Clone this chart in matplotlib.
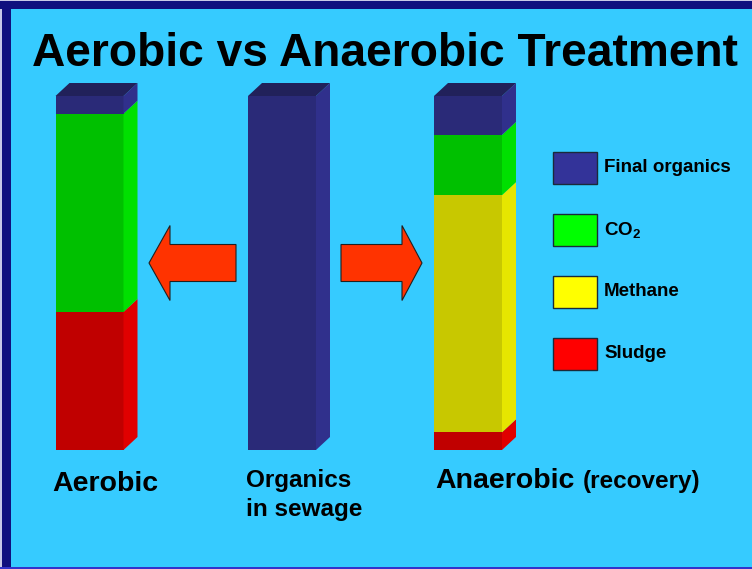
import matplotlib.pyplot as plt
import matplotlib.transforms as mtransforms
from matplotlib.patches import Polygon, Rectangle, FancyArrow
import numpy as np

plt.rcParams['font.family'] = ['Liberation Sans', 'DejaVu Sans']
plt.rcParams['font.weight'] = 'bold'
plt.rcParams['mathtext.fontset'] = 'custom'
plt.rcParams['mathtext.rm'] = 'Liberation Sans:bold'
plt.rcParams['mathtext.bf'] = 'Liberation Sans:bold'
plt.rcParams['mathtext.default'] = 'bf'

# share of the incoming organics (%) ending up in each product
columns = ["Aerobic", "Organics in sewage", "Anaerobic"]
components = ["Final organics", "CO$_2$", "Methane", "Sludge"]
final_organics = [5, 100, 11]
co2 = [56, 0, 17]
methane = [0, 0, 67]
sludge = [39, 0, 5]

W, H = 752, 569
BG = '#36CBFF'

fig = plt.figure(figsize=(W / 100, H / 100), dpi=100)
fig.patch.set_facecolor(BG)
pix = mtransforms.Affine2D().scale(1 / W, -1 / H).translate(0, 1) + fig.transFigure

# bars: x in pixels, y in percent (0 at the floor, 100 at the top of the columns)
px_per_unit = 3.54
floor = 450
ax = fig.add_axes([0, 0, 1, 1])
ax.set_xlim(0, W)
ax.set_ylim((floor - H) / px_per_unit, floor / px_per_unit)
ax.axis('off')
ax.set_facecolor('none')

bar_x = [89.5, 282, 468]
bar_w = 68
depth_x, depth_y = 14, 13 / px_per_unit

front = ['#2A2A78', '#00C000', '#C8C800', '#C00000']
side = ['#30308C', '#00E000', '#E6E600', '#E00000']
top_col = '#21215A'
swatch = ['#333399', '#00FF00', '#FFFF00', '#FF0000']

series = [final_organics, co2, methane, sludge]
# stack from the bottom: sludge, methane, CO2, final organics
bottom = np.zeros(len(columns))
for k in [3, 2, 1, 0]:
    vals = np.array(series[k], dtype=float)
    ax.bar(bar_x, vals, bar_w, bottom=bottom, color=front[k], linewidth=0)
    for x, b, v in zip(bar_x, bottom, vals):
        if v <= 0:
            continue
        r = x + bar_w / 2
        ax.add_patch(Polygon([(r, b), (r + depth_x, b + depth_y),
                              (r + depth_x, b + v + depth_y), (r, b + v)],
                             closed=True, facecolor=side[k], linewidth=0))
    bottom += vals

for x, t in zip(bar_x, bottom):
    l, r = x - bar_w / 2, x + bar_w / 2
    ax.add_patch(Polygon([(l, t), (l + depth_x, t + depth_y),
                          (r + depth_x, t + depth_y), (r, t)],
                         closed=True, facecolor=top_col, linewidth=0))

# arrows from the sewage column to both processes
arrow_y = (floor - 263) / px_per_unit
ax.add_patch(FancyArrow(236, arrow_y, 149 - 236, 0, width=37 / px_per_unit,
                        head_width=75 / px_per_unit, head_length=21,
                        length_includes_head=True, facecolor='#FF3300',
                        edgecolor='#202020', linewidth=0.8))
ax.add_patch(FancyArrow(341, arrow_y, 422 - 341, 0, width=37 / px_per_unit,
                        head_width=75 / px_per_unit, head_length=20,
                        length_includes_head=True, facecolor='#FF3300',
                        edgecolor='#202020', linewidth=0.8))

# legend
for i, (name, c) in enumerate(zip(components, swatch)):
    y0 = 152 + i * 62
    fig.add_artist(Rectangle((553, y0), 44, 32, transform=pix, facecolor=c,
                             edgecolor='#1A2A3A', linewidth=1))
    fig.text(604, y0 + 16, name, transform=pix, fontsize=13.5, va='center',
             ha='left', color='black')

# titles and labels
fig.text(385, 54, "Aerobic vs Anaerobic Treatment", transform=pix,
         fontsize=33.2, ha='center', va='center', color='black')
fig.text(52, 491, "Aerobic", transform=pix, fontsize=20.5, va='baseline')
fig.text(246, 487, "Organics", transform=pix, fontsize=17.5, va='baseline')
fig.text(246, 516, "in sewage", transform=pix, fontsize=17.5, va='baseline')
fig.text(435, 488, "Anaerobic", transform=pix, fontsize=20.5, va='baseline')
fig.text(583, 488, "(recovery)", transform=pix, fontsize=17.5, va='baseline')

# slide frame
fig.add_artist(Rectangle((0, 0), W, 1, transform=pix, facecolor='#C8C8E8', linewidth=0))
fig.add_artist(Rectangle((0, 0), 2, H, transform=pix, facecolor='#C8C8E8', linewidth=0))
fig.add_artist(Rectangle((0, 1), W, 8, transform=pix, facecolor='#10107F', linewidth=0))
fig.add_artist(Rectangle((2, 1), 9, H, transform=pix, facecolor='#10107F', linewidth=0))
fig.add_artist(Rectangle((0, H - 2), W, 2, transform=pix, facecolor='#3333CC', linewidth=0))

fig.savefig('out.png', dpi=100, facecolor=BG)
